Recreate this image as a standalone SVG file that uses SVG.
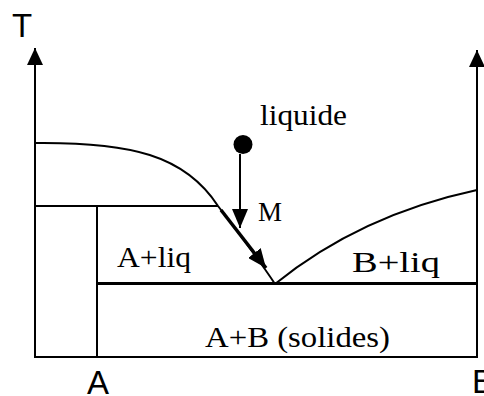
<svg xmlns="http://www.w3.org/2000/svg" width="484" height="396" viewBox="0 0 484 396">
<defs>
<marker id="axisHead" markerUnits="userSpaceOnUse" markerWidth="18" markerHeight="16" refX="17" refY="8" orient="auto">
<path d="M0,0 L17,8 L0,16 z" fill="#000"/>
</marker>
<marker id="arrHead" markerUnits="userSpaceOnUse" markerWidth="20" markerHeight="16" refX="19" refY="8" orient="auto">
<path d="M0,0 L19,8 L0,16 z" fill="#000"/>
</marker>
</defs>
<style>
.ln{fill:none;stroke:#000;stroke-width:2}
.thick{fill:none;stroke:#000;stroke-width:3.5}
.serif{font-family:"Liberation Serif","Times New Roman",serif;font-size:29px;fill:#000}
.sans{font-family:"Liberation Sans",Arial,sans-serif;font-size:33px;fill:#000}
</style>
<rect width="484" height="396" fill="#fff"/>
<g id="axes">
<path class="ln" d="M35,357 L35,48" marker-end="url(#axisHead)"/>
<path class="ln" d="M477,357 L477,50" marker-end="url(#axisHead)"/>
<path class="ln" d="M34,357 L478,357"/>
<text class="sans" x="12" y="37">T</text>
<text class="sans" x="98" y="394" text-anchor="middle">A</text>
<text class="sans" x="472" y="393">B</text>
</g>
<g id="phase-lines">
<path class="ln" d="M35,206 L218,206"/>
<path class="ln" d="M97,206 L97,357"/>
<path class="ln" d="M97,283.5 L477,283.5" style="stroke-width:3"/>
<path class="ln" d="M35,143 C130,142 185,155 218,206 C238,232 258,258 275,284"/>
<path class="ln" d="M275,284 Q360,215 477,190"/>
</g>
<g id="point-liquide">
<circle cx="243" cy="144.5" r="9.5" fill="#000"/>
<text class="serif" x="260" y="125" textLength="87" lengthAdjust="spacingAndGlyphs">liquide</text>
</g>
<g id="connectors">
<path class="ln" d="M240,154 L240,228" marker-end="url(#arrHead)"/>
<path class="thick" d="M221,210 L266,268" marker-end="url(#arrHead)"/>
</g>
<g id="labels">
<text class="serif" x="258" y="221" style="font-size:27px">M</text>
<text class="serif" x="117" y="267" textLength="74" lengthAdjust="spacingAndGlyphs">A+liq</text>
<text class="serif" x="352" y="272" textLength="88" lengthAdjust="spacingAndGlyphs">B+liq</text>
<text class="serif" x="205" y="347" textLength="185" lengthAdjust="spacingAndGlyphs">A+B (solides)</text>
</g>
</svg>
